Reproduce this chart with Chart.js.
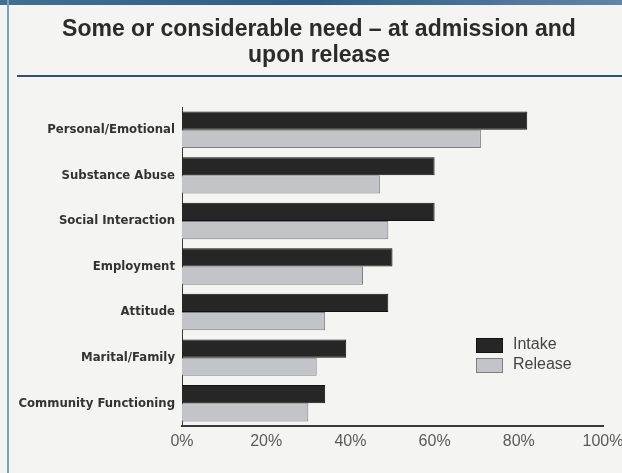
<!DOCTYPE html>
<html>
<head>
<meta charset="utf-8">
<title>Some or considerable need</title>
<script src="https://cdn.jsdelivr.net/npm/chart.js@4/dist/chart.umd.min.js"></script>
<style>
  html, body { margin: 0; padding: 0; background: #f4f4f2; }
  #wrap { position: relative; width: 622px; height: 473px; }
  canvas { display: block; }
</style>
</head>
<body>
<div id="wrap"><canvas id="chart" width="622" height="473"></canvas></div>
<script>
// Share of people with some or considerable need, by area (percent)
const categories = [
  'Personal/Emotional',
  'Substance Abuse',
  'Social Interaction',
  'Employment',
  'Attitude',
  'Marital/Family',
  'Community Functioning'
];
const intakeValues  = [82, 60, 60, 50, 49, 39, 34];
const releaseValues = [71, 47, 49, 43, 34, 32, 30];
const seriesNames = ['Intake', 'Release'];
const titleLines = ['Some or considerable need \u2013 at admission and', 'upon release'];
const tickValues = [0, 20, 40, 60, 80, 100];

// Frame: blue top band, left rule, title and the rule under it
const framePlugin = {
  id: 'frame',
  beforeDraw(chart) {
    const ctx = chart.ctx;
    const w = chart.width, h = chart.height;
    ctx.save();
    ctx.fillStyle = '#f4f4f2';
    ctx.fillRect(0, 0, w, h);
    const band = ctx.createLinearGradient(0, 0, w, 0);
    band.addColorStop(0, '#3f6f95');
    band.addColorStop(0.5, '#2d5d86');
    band.addColorStop(1, '#5f86a8');
    ctx.fillStyle = band;
    ctx.fillRect(0, 0, w, 5);
    ctx.fillStyle = '#7c9fc0';
    ctx.fillRect(7, 0, 2, h);
    ctx.fillStyle = '#f4f4f2';
    ctx.fillRect(0, 5, 7, h);
    ctx.fillStyle = '#2f4f6c';
    ctx.fillRect(17, 75, w - 17, 2);
    ctx.fillStyle = '#2b2b2b';
    ctx.font = 'bold 23px "Liberation Sans", Arial, sans-serif';
    ctx.textAlign = 'center';
    ctx.textBaseline = 'middle';
    ctx.fillText(titleLines[0], 319, 30);
    ctx.fillText(titleLines[1], 319, 56);
    ctx.restore();
  }
};

// Legend drawn inside the plot, lower right
const insideLegend = {
  id: 'insideLegend',
  afterDraw(chart) {
    const ctx = chart.ctx;
    const area = chart.chartArea;
    const x = area.left + 294;
    let y = area.top + 231;
    ctx.save();
    ctx.font = '16px "Liberation Sans", Arial, sans-serif';
    ctx.textBaseline = 'middle';
    chart.data.datasets.forEach(ds => {
      ctx.fillStyle = ds.backgroundColor;
      ctx.fillRect(x, y, 27, 15);
      ctx.strokeStyle = ds.borderColor;
      ctx.lineWidth = 1;
      ctx.strokeRect(x + 0.5, y + 0.5, 26, 14);
      ctx.fillStyle = '#444';
      ctx.fillText(ds.label, x + 37, y + 7);
      y += 20;
    });
    ctx.restore();
  }
};

new Chart(document.getElementById('chart'), {
  type: 'bar',
  data: {
    labels: categories,
    datasets: [
      {
        label: seriesNames[0],
        data: intakeValues,
        backgroundColor: '#262626',
        borderColor: '#111111',
        borderWidth: 1,
        categoryPercentage: 0.8,
        barPercentage: 1.0
      },
      {
        label: seriesNames[1],
        data: releaseValues,
        backgroundColor: '#c3c4c8',
        borderColor: '#7d7e82',
        borderWidth: 1,
        categoryPercentage: 0.8,
        barPercentage: 1.0
      }
    ]
  },
  options: {
    indexAxis: 'y',
    responsive: false,
    animation: false,
    devicePixelRatio: 1,
    layout: { padding: { top: 107, right: 0, bottom: 0, left: 0 } },
    plugins: {
      legend: { display: false },
      title: { display: false },
      tooltip: { enabled: false }
    },
    scales: {
      x: {
        min: 0,
        max: 100,
        afterBuildTicks(scale) { scale.ticks = tickValues.map(v => ({ value: v })); },
        afterFit(scale) {
          scale.height = 47;
          scale.paddingLeft = 0;
          scale.paddingRight = 19;
        },
        grid: { display: false, drawTicks: false },
        border: { display: true, color: '#3a3a3a', width: 2 },
        ticks: {
          padding: 6,
          color: '#5a5a5a',
          maxRotation: 0,
          font: { family: '"Liberation Sans", Arial, sans-serif', size: 16 },
          callback: v => v + '%'
        }
      },
      y: {
        afterFit(scale) { scale.width = 182; },
        grid: { display: false, drawTicks: false },
        border: { display: true, color: '#3a3a3a', width: 1 },
        ticks: {
          padding: 7,
          color: '#333',
          font: { family: '"DejaVu Sans Condensed", "DejaVu Sans", sans-serif', size: 13, weight: 'bold' }
        }
      }
    }
  },
  plugins: [framePlugin, insideLegend]
});
</script>
</body>
</html>
